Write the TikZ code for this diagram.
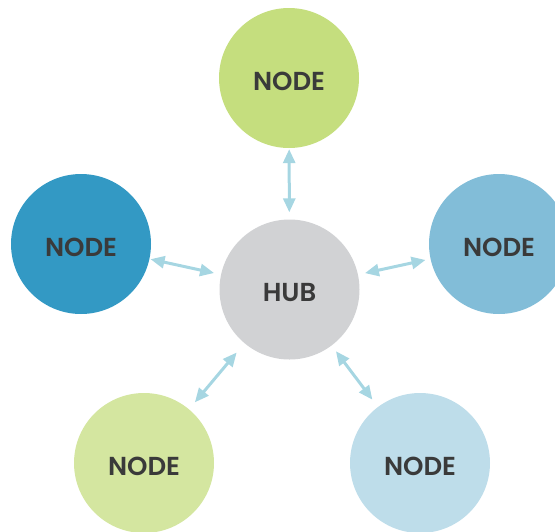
\documentclass[tikz,border=0pt]{standalone}
\usepackage{fontspec}
\setsansfont{Poppins}[BoldFont={Poppins SemiBold}]
\usetikzlibrary{arrows.meta}

\definecolor{hubgray}{RGB}{209,210,212}
\definecolor{leafgreen}{RGB}{197,222,126}
\definecolor{palegreen}{RGB}{212,230,160}
\definecolor{deepblue}{RGB}{51,153,196}
\definecolor{midblue}{RGB}{130,189,216}
\definecolor{paleblue}{RGB}{190,221,234}
\definecolor{linkblue}{RGB}{166,214,226}
\definecolor{labelgray}{RGB}{58,58,58}

\begin{document}
\begin{tikzpicture}[%
      x=1pt, y=-1pt,
      blob/.style={circle, minimum size=140pt, inner sep=0pt,
        text height=24pt, text depth=0pt,
        font=\sffamily\bfseries\fontsize{26}{26}\selectfont, text=labelgray},
      link/.style={linkblue, line width=3pt,
        {Triangle[length=14pt,width=12pt]}-{Triangle[length=14pt,width=12pt]}},
      ]
      \useasboundingbox (0,0) rectangle (555,531);
      \clip (0,0) rectangle (555,531);

      \node [blob, fill=hubgray] (hub) at (289.5,289.5) {HUB};

      \node [blob, fill=leafgreen] (top) at (289,78) {NODE};
      \node [blob, fill=deepblue] (west) at (81,244) {NODE};
      \node [blob, fill=midblue] (east) at (499,244) {NODE};
      \node [blob, fill=palegreen] (southwest) at (144,463) {NODE};
      \node [blob, fill=paleblue] (southeast) at (420,463) {NODE};

      \draw [link, shorten <=1pt, shorten >=7pt] (top) -- (hub);
      \draw [link, shorten <=1pt, shorten >=7pt] (west) -- (hub);
      \draw [link, shorten <=5pt, shorten >=7pt] (east) -- (hub);
      \draw [link, shorten <=9pt, shorten >=12pt] (southwest) -- (hub);
      \draw [link, shorten <=9pt, shorten >=7pt] (southeast) -- (hub);
      \end{tikzpicture}
\end{document}
